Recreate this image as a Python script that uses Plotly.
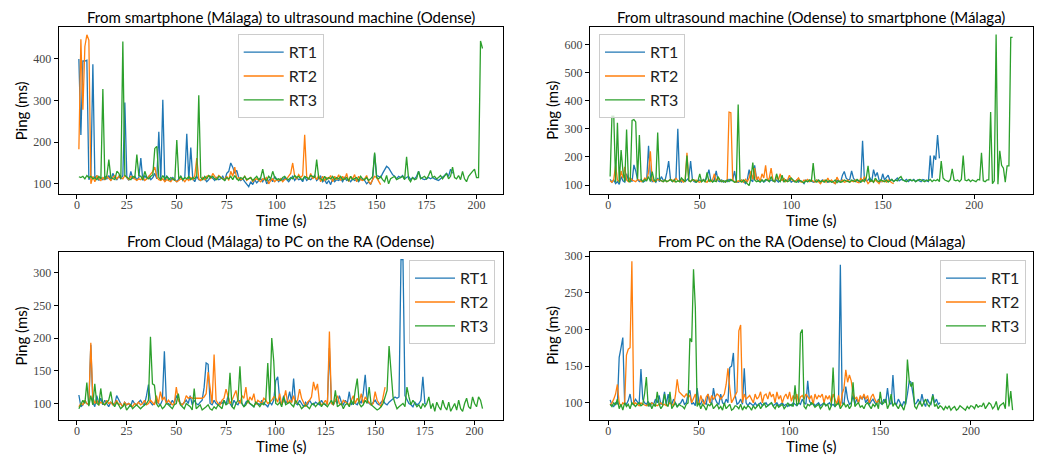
import plotly.graph_objects as go

# ---------------- data (ms per second) ----------------
tl_rt1 = [400, 217, 395, 395, 397, 110, 118, 387, 112, 120,
          108, 115, 110, 118, 112, 120, 108, 125, 115, 110,
          118, 112, 120, 295, 115, 108, 130, 112, 118, 110,
          115, 162, 108, 120, 112, 118, 110, 115, 125, 112,
          225, 110, 302, 105, 118, 112, 108, 115, 110, 105,
          112, 118, 108, 115, 220, 110, 187, 112, 105, 118,
          110, 108, 115, 112, 105, 110, 118, 112, 108, 115,
          110, 112, 118, 108, 125, 130, 150, 140, 125, 132,
          115, 108, 112, 105, 100, 93, 105, 98, 110, 102,
          108, 112, 105, 115, 100, 108, 112, 105, 118, 110,
          105, 112, 108, 115, 110, 105, 112, 118, 108, 115,
          110, 112, 105, 118, 108, 112, 110, 115, 120, 108,
          112, 118, 105, 110, 100, 108, 98, 112, 105, 110,
          108, 112, 105, 115, 108, 110, 105, 112, 108, 110,
          105, 112, 110, 108, 100, 105, 98, 110, 172, 120,
          118, 115, 125, 135, 142, 138, 128, 122, 118, 112,
          118, 115, 120, 112, 115, 118, 110, 115, 112, 118,
          130, 115, 112, 110, 112, 115, 112, 115, 112, 110,
          108, 112, 115, 120, 125, 118, 135, 125]
tl_rt2 = [183, 447, 278, 430, 458, 445, 100, 118, 105, 120,
          112, 108, 115, 110, 118, 112, 108, 115, 120, 112,
          118, 115, 112, 120, 115, 110, 118, 115, 112, 108,
          112, 110, 115, 108, 112, 118, 125, 130, 140, 115,
          110, 108, 112, 105, 110, 108, 105, 112, 108, 105,
          108, 112, 110, 105, 112, 108, 115, 110, 120, 162,
          112, 108, 115, 110, 118, 120, 112, 125, 118, 112,
          120, 115, 112, 110, 118, 108, 130, 118, 140, 112,
          115, 110, 112, 118, 108, 112, 115, 105, 110, 112,
          108, 105, 112, 110, 115, 100, 108, 112, 105, 110,
          108, 112, 105, 110, 112, 118, 125, 150, 118, 112,
          122, 115, 120, 218, 118, 110, 125, 112, 118, 110,
          120, 105, 118, 108, 115, 112, 120, 105, 118, 110,
          122, 108, 118, 110, 125, 105, 118, 112, 122, 105,
          118, 110, 108, 112, 120, 105, 100, 110, 118, 115,
          108, 98]
tl_rt3 = [117, 115, 118, 112, 120, 115, 118, 112, 115, 110,
          118, 112, 328, 110, 120, 158, 115, 112, 110, 130,
          125, 112, 442, 120, 115, 112, 110, 118, 115, 170,
          120, 118, 110, 130, 115, 112, 118, 122, 185, 190,
          115, 110, 120, 112, 118, 110, 115, 112, 108, 205,
          112, 118, 110, 115, 112, 118, 110, 115, 112, 120,
          313, 115, 110, 118, 112, 120, 115, 118, 112, 110,
          118, 115, 112, 108, 115, 112, 118, 110, 120, 112,
          108, 115, 112, 118, 110, 112, 115, 108, 112, 118,
          110, 115, 135, 112, 108, 118, 112, 130, 115, 110,
          112, 108, 115, 118, 112, 110, 115, 112, 120, 115,
          118, 112, 110, 118, 115, 112, 120, 118, 115, 158,
          115, 112, 108, 118, 110, 115, 112, 118, 110, 115,
          112, 118, 110, 112, 115, 108, 118, 110, 112, 115,
          108, 118, 112, 110, 115, 108, 112, 118, 175, 115,
          112, 118, 110, 105, 120, 100, 112, 115, 118, 110,
          112, 115, 118, 110, 165, 112, 105, 115, 110, 112,
          130, 112, 115, 118, 112, 120, 132, 115, 118, 112,
          115, 120, 112, 118, 125, 112, 118, 140, 115, 112,
          120, 110, 130, 112, 105, 118, 125, 130, 135, 115,
          115, 443, 425]

tr_rt1 = [120, 110, 118, 105, 112, 102, 130, 115, 110, 140,
          118, 125, 112, 172, 150, 118, 112, 120, 110, 115,
          118, 240, 130, 112, 118, 110, 125, 112, 130, 118,
          115, 145, 185, 120, 112, 118, 125, 300, 115, 110,
          118, 112, 120, 125, 185, 118, 112, 110, 115, 118,
          112, 120, 115, 130, 155, 118, 112, 120, 150, 115,
          112, 118, 110, 115, 112, 120, 115, 118, 150, 112,
          110, 115, 118, 112, 105, 120, 155, 118, 112, 170,
          125, 115, 112, 118, 110, 115, 120, 112, 118, 115,
          112, 118, 110, 115, 120, 112, 118, 115, 125, 110,
          115, 112, 118, 110, 115, 112, 105, 118, 112, 115,
          118, 110, 112, 118, 115, 110, 118, 112, 115, 110,
          112, 115, 110, 105, 118, 112, 110, 135, 148, 125,
          118, 120, 150, 125, 115, 118, 112, 110, 258, 120,
          115, 118, 125, 112, 155, 130, 145, 118, 112, 140,
          118, 125, 135, 115, 120, 112, 118, 125, 115, 120,
          118, 115, 120, 112, 118, 115, 120, 112, 118, 115,
          112, 120, 118, 115, 112, 205, 125, 205, 190, 278,
          195]
tr_rt2 = [115, 110, 120, 170, 118, 112, 150, 125, 165, 118,
          112, 125, 118, 115, 112, 120, 118, 112, 115, 125,
          118, 145, 220, 118, 112, 115, 120, 118, 115, 112,
          118, 112, 115, 120, 118, 112, 125, 115, 112, 118,
          110, 115, 215, 118, 112, 120, 115, 118, 112, 110,
          115, 118, 112, 110, 120, 112, 118, 140, 112, 125,
          118, 112, 115, 110, 118, 360, 358, 118, 112, 110,
          115, 112, 118, 110, 120, 112, 125, 150, 120, 160,
          118, 130, 112, 140, 125, 170, 115, 125, 160, 118,
          112, 130, 118, 140, 115, 125, 112, 118, 135, 120,
          115, 112, 118, 125, 112, 110, 118, 115, 120, 112,
          118, 115, 110, 118, 112, 105, 115, 118, 110, 125,
          112, 118, 110, 105, 128, 115, 112, 118, 110, 112,
          118, 110, 115, 112, 118, 110, 108, 125, 112, 130,
          118, 105, 112, 115, 110, 118, 112, 105, 118, 112,
          115, 110, 118, 112, 108, 105]
tr_rt3 = [130, 345, 345, 110, 322, 108, 225, 150, 112, 298,
          115, 110, 330, 333, 325, 120, 278, 118, 112, 120,
          115, 130, 112, 148, 118, 112, 287, 120, 115, 112,
          118, 112, 115, 120, 112, 118, 110, 115, 112, 125,
          118, 112, 205, 115, 112, 120, 118, 110, 115, 140,
          112, 118, 110, 145, 112, 118, 110, 115, 112, 130,
          118, 112, 115, 110, 118, 112, 120, 115, 110, 112,
          387, 115, 110, 118, 112, 105, 98, 125, 180, 118,
          112, 115, 110, 118, 112, 120, 118, 112, 130, 115,
          112, 140, 118, 112, 135, 110, 118, 112, 115, 125,
          118, 112, 110, 118, 115, 112, 108, 115, 112, 118,
          112, 178, 115, 110, 118, 112, 115, 110, 118, 112,
          115, 110, 112, 118, 108, 115, 110, 112, 118, 115,
          112, 110, 118, 115, 112, 120, 115, 110, 118, 112,
          125, 168, 112, 118, 110, 125, 115, 112, 118, 115,
          112, 118, 110, 115, 120, 112, 118, 115, 125, 130,
          118, 115, 112, 118, 120, 115, 118, 112, 115, 120,
          118, 115, 112, 118, 115, 120, 112, 118, 115, 120,
          112, 185, 125, 118, 115, 112, 120, 158, 118, 115,
          118, 112, 120, 205, 118, 115, 120, 112, 118, 115,
          112, 120, 118, 215, 115, 112, 118, 118, 360, 105,
          115, 636, 103, 222, 170, 160, 110, 168, 168, 626,
          626]

bl_rt1 = [113, 95, 98, 105, 100, 98, 190, 102, 95, 112,
          100, 108, 98, 105, 100, 95, 102, 100, 98, 112,
          105, 100, 95, 102, 98, 100, 95, 105, 100, 98,
          102, 105, 100, 98, 112, 129, 102, 98, 100, 105,
          100, 98, 105, 180, 102, 100, 98, 105, 100, 112,
          105, 100, 98, 102, 105, 100, 112, 98, 105, 100,
          98, 102, 105, 125, 162, 160, 100, 98, 105, 100,
          98, 102, 100, 105, 98, 112, 100, 95, 105, 100,
          98, 105, 100, 95, 102, 105, 100, 98, 95, 102,
          100, 98, 105, 100, 98, 95, 102, 98, 105, 135,
          141, 105, 98, 112, 100, 105, 118, 102, 138, 100,
          98, 105, 100, 95, 102, 98, 105, 100, 98, 102,
          100, 98, 105, 100, 98, 102, 185, 100, 98, 105,
          100, 112, 102, 98, 105, 100, 118, 98, 102, 100,
          98, 105, 100, 115, 144, 105, 100, 98, 102, 105,
          100, 98, 102, 105, 100, 98, 102, 105, 108, 110,
          108, 110, 320, 320, 112, 105, 100, 98, 95, 102,
          98, 100, 105, 141, 100, 98]
bl_rt2 = [95, 100, 98, 105, 100, 98, 193, 110, 100, 105,
          98, 102, 100, 98, 105, 100, 102, 98, 100, 105,
          98, 100, 95, 102, 98, 100, 98, 95, 100, 98,
          102, 98, 100, 105, 98, 100, 105, 102, 98, 112,
          100, 118, 105, 110, 100, 105, 102, 98, 100, 125,
          105, 100, 98, 102, 112, 108, 110, 108, 108, 108,
          108, 108, 108, 110, 115, 148, 120, 100, 175, 105,
          100, 98, 105, 108, 122, 110, 100, 105, 112, 120,
          105, 100, 112, 108, 125, 100, 110, 105, 115, 98,
          105, 102, 100, 108, 105, 100, 102, 105, 110, 108,
          102, 115, 98, 105, 120, 100, 105, 102, 112, 100,
          105, 122, 108, 100, 95, 102, 105, 110, 133, 120,
          130, 102, 98, 100, 105, 98, 210, 100, 98, 105,
          112, 100, 98, 105, 102, 100, 98, 105, 112, 100,
          108, 102, 115, 100, 110, 105, 102, 98, 100, 118,
          105, 100, 95, 110, 125]
bl_rt3 = [92, 98, 105, 100, 132, 96, 112, 98, 130, 100,
          98, 123, 100, 98, 102, 105, 118, 100, 95, 102,
          98, 92, 95, 100, 90, 95, 98, 92, 95, 98,
          95, 92, 95, 98, 100, 105, 202, 130, 128, 100,
          95, 98, 92, 95, 100, 98, 95, 92, 98, 100,
          115, 98, 95, 92, 100, 98, 95, 90, 123, 92,
          95, 98, 90, 92, 95, 98, 92, 90, 95, 92,
          98, 95, 92, 105, 98, 100, 147, 95, 92, 100,
          105, 157, 100, 95, 98, 105, 100, 98, 95, 102,
          98, 95, 100, 98, 105, 162, 100, 200, 165, 100,
          98, 102, 95, 110, 98, 100, 102, 98, 95, 105,
          100, 98, 92, 95, 98, 95, 92, 98, 100, 95,
          98, 102, 95, 100, 98, 95, 100, 105, 98, 120,
          95, 98, 100, 92, 98, 100, 95, 105, 98, 120,
          138, 100, 95, 98, 105, 100, 125, 98, 95, 92,
          90, 92, 95, 100, 110, 120, 188, 150, 110, 100,
          92, 95, 98, 100, 95, 125, 110, 98, 105, 100,
          95, 98, 92, 100, 95, 100, 110, 92, 100, 88,
          102, 95, 90, 105, 95, 90, 102, 88, 95, 100,
          90, 105, 92, 88, 100, 108, 95, 92, 110, 100,
          95, 110, 105, 92]

br_rt1 = [104, 97, 95, 100, 98, 162, 175, 189, 100, 98,
          103, 112, 98, 100, 105, 102, 98, 146, 105, 100,
          98, 102, 95, 100, 98, 105, 100, 110, 98, 100,
          115, 98, 112, 100, 98, 105, 100, 95, 98, 100,
          105, 98, 100, 112, 117, 98, 100, 96, 120, 100,
          98, 105, 100, 98, 112, 102, 98, 120, 105, 100,
          98, 112, 100, 98, 105, 100, 148, 150, 168, 110,
          98, 100, 105, 98, 147, 100, 96, 100, 98, 96,
          100, 96, 98, 100, 96, 98, 100, 96, 98, 100,
          96, 98, 100, 96, 98, 100, 96, 98, 95, 98,
          96, 100, 98, 96, 100, 98, 105, 100, 98, 130,
          102, 98, 100, 96, 98, 100, 96, 98, 100, 96,
          98, 100, 96, 98, 95, 100, 98, 288, 100, 98,
          122, 105, 98, 100, 110, 98, 105, 100, 108, 105,
          110, 100, 105, 98, 102, 105, 100, 98, 105, 100,
          98, 105, 100, 120, 100, 98, 138, 100, 98, 105,
          100, 95, 102, 98, 112, 130, 128, 110, 98, 100,
          105, 98, 112, 100, 95, 105, 100, 98, 112, 100,
          105, 98, 100]
br_rt2 = [97, 100, 105, 112, 125, 100, 95, 100, 98, 165,
          173, 175, 293, 97, 100, 98, 96, 100, 98, 97,
          96, 98, 97, 100, 98, 97, 96, 98, 100, 97,
          98, 96, 97, 100, 98, 96, 110, 132, 115, 112,
          110, 108, 112, 108, 110, 100, 105, 112, 100, 98,
          110, 102, 98, 108, 112, 100, 110, 105, 108, 112,
          110, 105, 108, 112, 125, 147, 120, 100, 105, 110,
          115, 198, 206, 100, 112, 105, 108, 110, 105, 100,
          112, 105, 108, 115, 100, 110, 112, 105, 115, 108,
          112, 100, 115, 105, 110, 100, 108, 112, 105, 115,
          102, 110, 105, 112, 100, 108, 110, 105, 112, 108,
          105, 110, 98, 112, 105, 110, 108, 112, 100, 110,
          105, 110, 100, 112, 105, 98, 110, 95, 112, 120,
          145, 128, 138, 130, 112, 105, 108, 100, 110, 105,
          112, 105, 110, 100, 108, 112, 105, 100, 103, 100]
br_rt3 = [98, 95, 100, 97, 105, 92, 98, 90, 100, 95,
          98, 92, 100, 97, 95, 98, 100, 96, 98, 112,
          135, 95, 100, 92, 98, 95, 115, 98, 92, 96,
          112, 98, 95, 115, 92, 96, 100, 94, 98, 96,
          95, 92, 98, 100, 188, 183, 282, 230, 95, 100,
          92, 98, 95, 90, 98, 96, 100, 92, 95, 98,
          92, 95, 90, 100, 92, 95, 98, 90, 92, 96,
          95, 92, 98, 90, 95, 92, 96, 94, 90, 96,
          92, 95, 98, 92, 96, 100, 94, 96, 98, 100,
          95, 92, 98, 94, 96, 98, 92, 95, 100, 96,
          98, 95, 124, 96, 100, 195, 200, 95, 92, 98,
          96, 100, 98, 94, 96, 98, 92, 95, 100, 96,
          98, 90, 96, 148, 95, 98, 100, 92, 96, 100,
          94, 98, 92, 96, 128, 95, 98, 100, 94, 96,
          92, 98, 100, 95, 92, 98, 95, 100, 92, 115,
          98, 100, 105, 92, 98, 112, 95, 100, 96, 92,
          98, 95, 90, 100, 159, 130, 122, 128, 95, 92,
          98, 102, 95, 100, 105, 98, 95, 100, 110, 95,
          98, 92, 96, 94, 90, 95, 92, 96, 90, 93,
          95, 90, 92, 96, 94, 92, 90, 95, 92, 96,
          95, 92, 98, 94, 96, 95, 100, 92, 96, 100,
          98, 92, 95, 102, 90, 96, 98, 100, 92, 140,
          95, 116, 90]

series_names = ["RT1", "RT2", "RT3"]
colors = ["#1f77b4", "#ff7f0e", "#2ca02c"]
titles = ["From smartphone (Málaga) to ultrasound machine (Odense)",
          "From ultrasound machine (Odense) to smartphone (Málaga)",
          "From Cloud (Málaga) to PC on the RA (Odense)",
          "From PC on the RA (Odense) to Cloud (Málaga)"]
panels = [[tl_rt1, tl_rt2, tl_rt3], [tr_rt1, tr_rt2, tr_rt3],
          [bl_rt1, bl_rt2, bl_rt3], [br_rt1, br_rt2, br_rt3]]

W, H = 1043, 456
# plot-area pixel boxes (left, right, top, bottom)
boxes = [(58.7, 502.7, 27.3, 194.0), (590.0, 1032.7, 27.3, 194.0),
         (58.7, 502.7, 252.0, 419.7), (590.0, 1032.7, 252.0, 419.7)]
xranges = [[-9.1, 213.1], [-10.0, 232.0], [-9.15, 214.15], [-10.1, 234.1]]
yranges = [[75.5, 476], [68, 662], [75.2, 331.8], [77.0, 305.5]]
xticks = [[0, 25, 50, 75, 100, 125, 150, 175, 200], [0, 50, 100, 150, 200],
          [0, 25, 50, 75, 100, 125, 150, 175, 200], [0, 50, 100, 150, 200]]
yticks = [[100, 200, 300, 400], [100, 200, 300, 400, 500, 600],
          [100, 150, 200, 250, 300], [100, 150, 200, 250, 300]]
legend_pos = [(237.7, 34.3), (599.0, 34.3), (409.0, 260.3), (940.0, 260.3)]

fig = go.Figure()
layout = dict(width=W, height=H, margin=dict(l=0, r=0, t=0, b=0, autoexpand=False),
              paper_bgcolor="white", plot_bgcolor="white", showlegend=True)
annotations = []
tick_font = dict(family="Liberation Serif, DejaVu Serif, serif", size=12, color="#444")
label_font = dict(family="Lato, DejaVu Sans, sans-serif", size=15, color="black")

for i, (series, box) in enumerate(zip(panels, boxes)):
    l, r, t, b = box
    xa = "xaxis" if i == 0 else f"xaxis{i+1}"
    ya = "yaxis" if i == 0 else f"yaxis{i+1}"
    xref = "x" if i == 0 else f"x{i+1}"
    yref = "y" if i == 0 else f"y{i+1}"
    leg = "legend" if i == 0 else f"legend{i+1}"
    for j, vals in enumerate(series):
        fig.add_trace(go.Scatter(
            x=list(range(1, len(vals) + 1)), y=vals, mode="lines",
            name=series_names[j], line=dict(color=colors[j], width=1.3),
            xaxis=xref, yaxis=yref, legend=leg))
    common = dict(showline=True, linecolor="black", linewidth=1, mirror=True,
                  ticks="outside", ticklen=4, tickcolor="black", tickwidth=1,
                  showgrid=False, zeroline=False, tickfont=tick_font, automargin=False)
    layout[xa] = dict(domain=[l / W, r / W], anchor=yref, range=xranges[i],
                      tickvals=xticks[i], ticklabelstandoff=-4, **common)
    layout[ya] = dict(domain=[1 - b / H, 1 - t / H], anchor=xref, range=yranges[i],
                      tickvals=yticks[i], **common)
    lx, ly = legend_pos[i]
    layout[leg] = dict(x=lx / W, y=1 - ly / H, xanchor="left", yanchor="top",
                       bgcolor="rgba(255,255,255,0.8)", bordercolor="#cccccc",
                       borderwidth=1, font=dict(family="Lato, DejaVu Sans, sans-serif", size=16, color="#222"),
                       tracegroupgap=0, itemwidth=40)
    # title
    annotations.append(dict(text=titles[i], x=(l + r) / 2 / W, y=1 - (t - 10.5) / H,
                            xref="paper", yref="paper", xanchor="center", yanchor="middle",
                            showarrow=False, font=label_font))
    # x label
    annotations.append(dict(text="Time (s)", x=(l + r) / 2 / W, y=1 - (b + 26) / H,
                            xref="paper", yref="paper", xanchor="center", yanchor="middle",
                            showarrow=False, font=label_font))
    # y label
    annotations.append(dict(text="Ping (ms)", x=(l - 38) / W, y=1 - (t + b) / 2 / H,
                            xref="paper", yref="paper", xanchor="center", yanchor="middle",
                            textangle=-90, showarrow=False, font=label_font))

layout["annotations"] = annotations
fig.update_layout(**layout)
fig.write_html("out.html", config={"displayModeBar": False},
               post_script="document.body.style.margin='0';")
